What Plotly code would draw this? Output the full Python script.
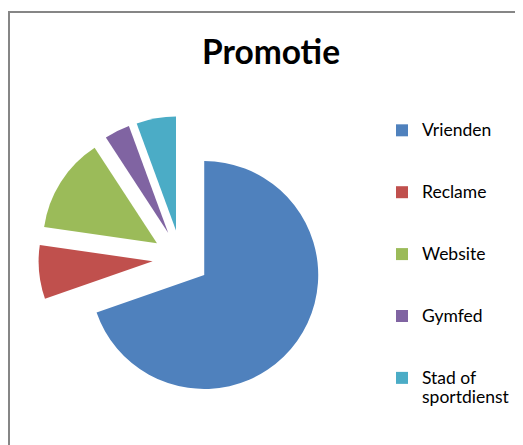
import plotly.graph_objects as go

categories = ["Vrienden", "Reclame", "Website", "Gymfed", "Stad of sportdienst"]
legend_names = ["Vrienden", "Reclame", "Website", "Gymfed", "Stad of<br>sportdienst"]
values = [69.6, 7.6, 13.5, 3.6, 5.6]
colors = ["#4F81BD", "#C0504D", "#9BBB59", "#8064A2", "#4BACC6"]

W, H = 523, 445
OFF = 8  # page body margin offset
TXT = 17.5


def legend_label(name):
    lines = name.split("<br>")
    body = "<br>".join(f'<span style="font-size:{TXT}px">{ln}</span>' for ln in lines)
    pad = 3 - len(lines)
    return body + "<br> " * pad if pad > 0 else body


labels = [legend_label(n) for n in legend_names]

# pie geometry (target pixels in the screenshot)
cx, cy, r, pull = 181 - OFF, 258.5 - OFF, 114, 0.25
half = r * (1 + pull)

fig = go.Figure(
    go.Pie(
        labels=labels,
        values=values,
        customdata=categories,
        sort=False,
        direction="clockwise",
        rotation=0,
        pull=[pull] * len(values),
        marker=dict(colors=colors, line=dict(width=0)),
        textinfo="none",
        hovertemplate="%{customdata}: %{value}<extra></extra>",
        domain=dict(
            x=[(cx - half) / W, (cx + half) / W],
            y=[1 - (cy + half) / H, 1 - (cy - half) / H],
        ),
    )
)

fig.update_layout(
    width=W,
    height=H,
    margin=dict(l=0, r=0, t=0, b=0),
    paper_bgcolor="white",
    plot_bgcolor="white",
    font=dict(family="Lato", color="#000000"),
    title=dict(
        text="<b>Promotie</b>",
        x=(271 - OFF) / W,
        xanchor="center",
        y=1 - (52 - OFF) / H,
        yanchor="middle",
        font=dict(family="Lato", size=33.5, color="#000000"),
    ),
    legend=dict(
        x=(382 - OFF) / W,
        xanchor="left",
        y=1 - (114 - OFF) / H,
        yanchor="top",
        valign="top",
        font=dict(family="Lato", size=15.1, color="#000000"),
        bgcolor="rgba(0,0,0,0)",
    ),
    shapes=[
        dict(
            type="rect",
            xref="paper",
            yref="paper",
            x0=(9 - OFF) / W,
            x1=1.05,
            y0=-0.05,
            y1=1 - (12 - OFF) / H,
            line=dict(color="#868686", width=2),
            fillcolor="rgba(0,0,0,0)",
            layer="below",
        )
    ],
)

fig.write_html("out.html")
